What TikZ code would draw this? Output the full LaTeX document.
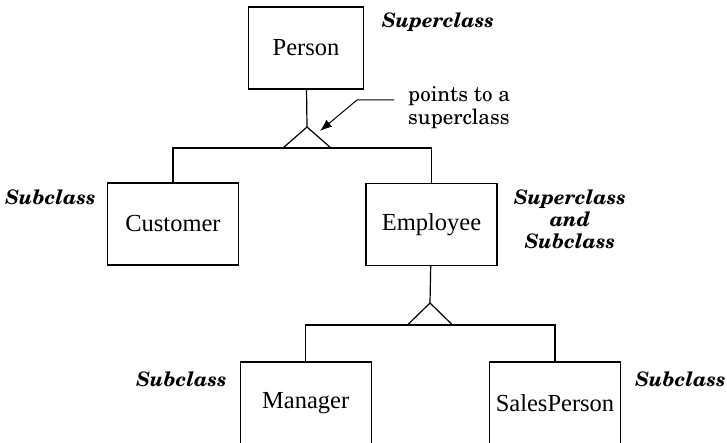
\documentclass[tikz,border=0pt]{standalone}
\usepackage[T1]{fontenc}
\usepackage{fontspec}
\setmainfont{Liberation Serif}
\usetikzlibrary{arrows.meta}
\newcommand{\schola}{\fontencoding{T1}\fontfamily{pnc}\selectfont}
\tikzset{
  classbox/.style={draw, line width=1.2pt, minimum width=131pt, minimum height=82pt,
    inner sep=0pt, font=\fontsize{24.5}{28}\selectfont},
  rolelabel/.style={inner sep=0pt, align=center,
    font=\schola\bfseries\itshape\fontsize{20}{22}\selectfont},
  note/.style={inner sep=0pt, align=left, font=\schola\fontsize{21}{23}\selectfont},
  link/.style={line width=1.2pt}
}
\begin{document}
\begin{tikzpicture}[x=1pt, y=-1pt]
  \useasboundingbox (0,0) rectangle (727,443);
  % classes
  \node[classbox, minimum width=115pt] (person) at (306,48) {Person};
  \node[classbox] (customer) at (173,224) {Customer};
  \node[classbox] (employee) at (431.5,224.5) {Employee};
  \node[classbox] (manager) at (305.7,403) {Manager};
  \node[classbox] (salesperson) at (555,403) {SalesPerson};
  % labels
  \node[rolelabel] (superA) at (438,22) {Superclass};
  \node[rolelabel] (subA) at (50.5,197) {Subclass};
  \node[rolelabel] (superB) at (570,219) {Superclass\\and\\Subclass};
  \node[rolelabel] (subB) at (181.5,379) {Subclass};
  \node[rolelabel] (subC) at (680.5,379) {Subclass};
  \node[note, anchor=west] (pointer) at (408,107.5) {points to a\\superclass};
  % generalisation triangles
  \coordinate (apexA) at (307,127);
  \coordinate (apexB) at (430,303);
  \draw[link] (apexA) -- ++(-24,21) -- ++(48,0) -- cycle;
  \draw[link] (apexB) -- ++(-22.5,22) -- ++(45,0) -- cycle;
  \coordinate (barA) at (307,148);
  \coordinate (barB) at (430,325);
  \begin{scope}[link]
    \draw (person) -- (apexA);
    \draw (customer) -- (customer |- barA) -- (employee |- barA) -- (employee);
    \draw (employee) -- (apexB);
    \draw (manager) -- (manager |- barB) -- (salesperson |- barB) -- (salesperson);
  \end{scope}
  % pointer arrow
  \coordinate (bend) at (357,100);
  \coordinate (tip) at (320,131);
  \draw[link, line width=1pt, -{Latex[length=12pt,width=9pt]}] (pointer.west |- bend) ++(-14,0) -- (bend) -- (tip);
\end{tikzpicture}
\end{document}
